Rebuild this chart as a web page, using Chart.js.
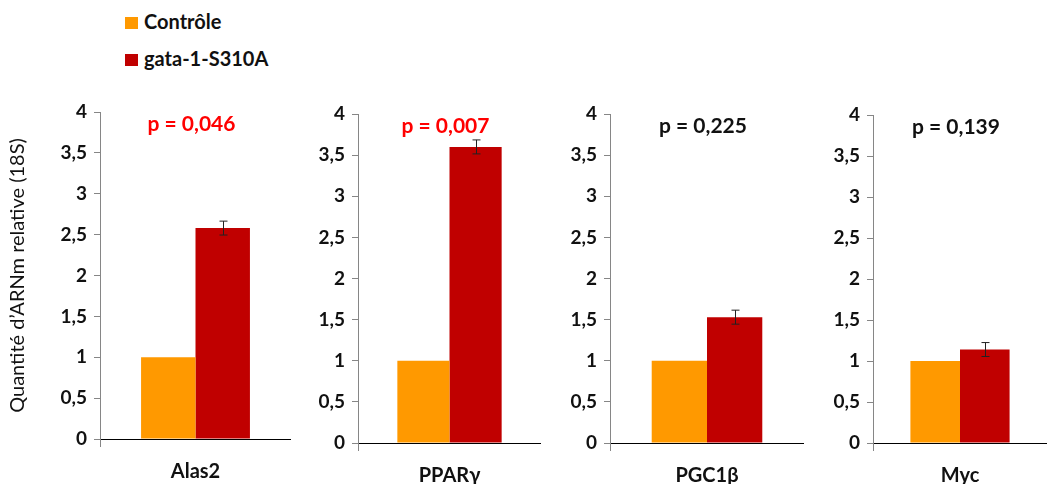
<!DOCTYPE html>
<html>
<head>
<meta charset="utf-8">
<script src="https://cdn.jsdelivr.net/npm/chart.js@4"></script>
<style>
  html, body { margin: 0; padding: 0; background: #fff; overflow: hidden; }
  #wrap { position: relative; width: 1047px; height: 484px; }
  .panel { position: absolute; top: 0; }
  .legend { position: absolute; left: 125px; font-family: Lato, sans-serif; font-weight: bold; font-size: 20px; color: #111; }
  .legend span.sw { display: inline-block; width: 13px; height: 12px; margin-right: 6px; vertical-align: 0px; }
</style>
</head>
<body>
<div id="wrap">
  <div class="legend" style="top:9px"><span class="sw" style="background:#FF9900"></span>Contrôle</div>
  <div class="legend" style="top:46px"><span class="sw" style="background:#C00000"></span>gata-1-S310A</div>
</div>
<script>
// data
var genes = ['Alas2', 'PPARγ', 'PGC1β', 'Myc'];
var controle = [1, 1, 1, 1];
var mutant = [2.58, 3.60, 1.53, 1.14];
var mutantErr = [0.085, 0.085, 0.085, 0.085];
var pValues = [0.046, 0.007, 0.225, 0.139];
var yTicks = [0, 0.5, 1, 1.5, 2, 2.5, 3, 3.5, 4];

// panel placement (chart area left/right/top/bottom in page pixels)
var panels = [
  { left: 0,   axisW: 100, areaR: 291,  top: 112, bottom: 439 },
  { left: 298, axisW: 60,  areaR: 541,  top: 114, bottom: 443 },
  { left: 550, axisW: 60,  areaR: 804,  top: 114, bottom: 443 },
  { left: 813, axisW: 60,  areaR: 1047, top: 115, bottom: 443 }
];

var errorBars = {
  id: 'errorBars',
  afterDatasetsDraw: function (chart, args, opts) {
    var ctx = chart.ctx;
    var meta = chart.getDatasetMeta(1);
    var y = chart.scales.y;
    meta.data.forEach(function (bar, j) {
      var v = chart.data.datasets[1].data[j];
      var e = opts.err;
      var x = Math.round(bar.x) + 0.5;
      var y1 = y.getPixelForValue(v + e), y2 = y.getPixelForValue(v - e);
      ctx.save();
      ctx.strokeStyle = '#222';
      ctx.lineWidth = 1;
      ctx.beginPath();
      ctx.moveTo(x, y1); ctx.lineTo(x, y2);
      ctx.moveTo(x - 4, y1); ctx.lineTo(x + 4, y1);
      ctx.moveTo(x - 4, y2); ctx.lineTo(x + 4, y2);
      ctx.stroke();
      ctx.restore();
    });
  }
};

var pLabel = {
  id: 'pLabel',
  afterDraw: function (chart, args, opts) {
    var ctx = chart.ctx;
    var a = chart.chartArea;
    ctx.save();
    ctx.font = 'bold 21px Lato, sans-serif';
    ctx.fillStyle = opts.p < 0.05 ? '#FF0000' : '#111';
    ctx.textAlign = 'center';
    ctx.textBaseline = 'middle';
    ctx.fillText('p = ' + String(opts.p.toFixed(3)).replace('.', ','), (a.left + a.right) / 2 - 4, chart.scales.y.getPixelForValue(3.85));
    ctx.restore();
  }
};

var wrap = document.getElementById('wrap');
panels.forEach(function (pn, i) {
  var w = pn.areaR - pn.left;
  var div = document.createElement('div');
  div.className = 'panel';
  div.style.left = pn.left + 'px';
  var cv = document.createElement('canvas');
  cv.width = w; cv.height = 484;
  cv.style.width = w + 'px'; cv.style.height = '484px';
  div.appendChild(cv);
  wrap.appendChild(div);

  new Chart(cv.getContext('2d'), {
    type: 'bar',
    data: {
      labels: [genes[i]],
      datasets: [
        { label: 'Contrôle', backgroundColor: '#FF9900', data: [controle[i]] },
        { label: 'gata-1-S310A', backgroundColor: '#C00000', data: [mutant[i]] }
      ]
    },
    options: {
      responsive: false,
      animation: false,
      events: [],
      layout: { padding: { top: pn.top, left: 0, right: 0, bottom: 0 } },
      datasets: { bar: { barPercentage: 1, categoryPercentage: 0.57 } },
      plugins: {
        legend: { display: false },
        tooltip: { enabled: false },
        errorBars: { err: mutantErr[i] },
        pLabel: { p: pValues[i] }
      },
      scales: {
        x: {
          grid: { drawOnChartArea: false, tickLength: 8, color: '#868686' },
          border: { color: '#000', width: 1 },
          ticks: { color: '#111', padding: 13, font: { family: 'Lato', weight: 'bold', size: 20 } },
          afterFit: function (s) { s.height = 484 - pn.bottom; }
        },
        y: {
          min: 0, max: 4,
          afterBuildTicks: function (s) { s.ticks = yTicks.map(function (v) { return { value: v }; }); },
          grid: { drawOnChartArea: false, tickLength: 6, color: '#868686' },
          border: { color: '#868686', width: 1 },
          ticks: {
            color: '#111', padding: 7,
            font: { family: 'Lato', weight: 'bold', size: 19 },
            callback: function (v) { return String(v).replace('.', ','); }
          },
          title: {
            display: i === 0,
            text: 'Quantité d\u2019ARNm relative (18S)',
            color: '#111',
            font: { family: 'Lato', size: 20 },
            padding: { top: 6, bottom: 0 }
          },
          afterFit: function (s) { s.width = pn.axisW; }
        }
      }
    },
    plugins: [errorBars, pLabel]
  });
});
</script>
</body>
</html>
